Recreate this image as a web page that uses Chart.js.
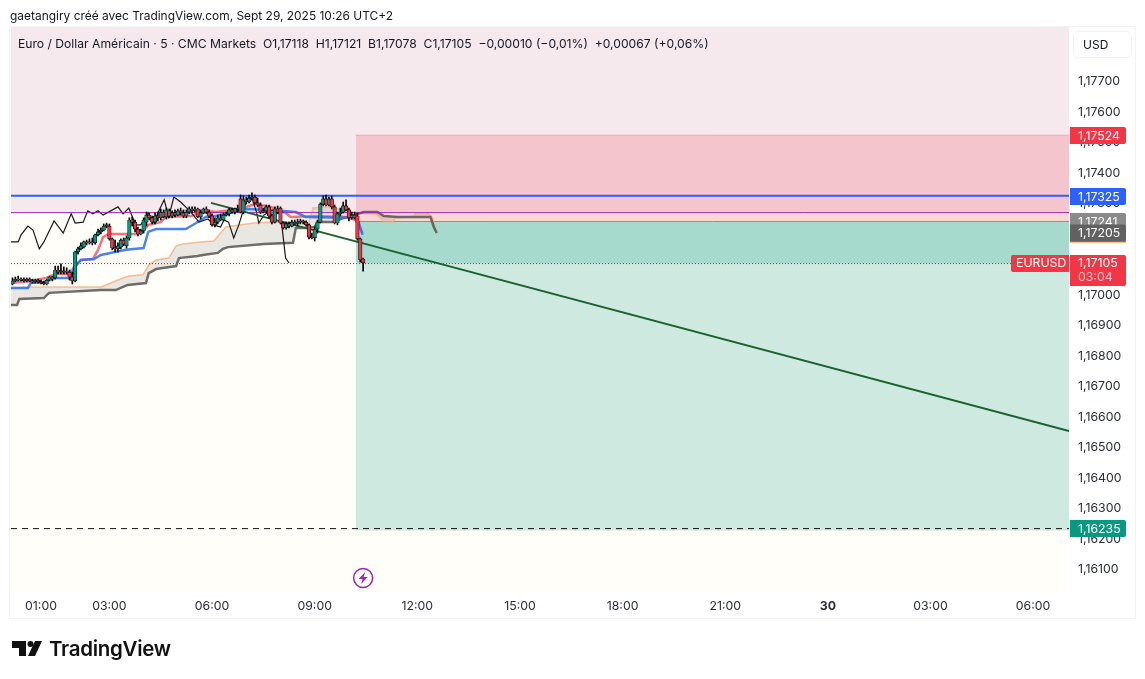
<!DOCTYPE html>
<html>
<head>
<meta charset="utf-8">
<title>EURUSD</title>
<script src="https://cdn.jsdelivr.net/npm/chart.js@4"></script>
<style>
    html, body { margin: 0; padding: 0; background: #fff; width: 1145px; height: 679px; overflow: hidden; }
    body { font-family: Inter, "Noto Sans", sans-serif; color: #131722; }
    canvas { position: absolute; left: 0; top: 0; }
    .txt { position: absolute; white-space: pre; }
    #credit { left: 10px; top: 8px; font-size: 11.95px; }
    #legend { left: 18px; top: 36px; font-size: 12.15px; }
    #frame { position: absolute; left: 9px; top: 26px; width: 1125px; height: 591px; border: 1.5px solid #f2f3f5; }
    #usd { left: 1073px; top: 31px; width: 57px; height: 25px; line-height: 25px; border: 1.5px solid #f1f2f4; border-radius: 5px; font-size: 12px; text-indent: 9px; }
    #brand { left: 49px; top: 636px; font-size: 20.5px; font-weight: 600; letter-spacing: -0.3px; color: #111; }
    #logo { position: absolute; left: 11px; top: 640px; }
</style>
</head>
<body>
<canvas id="chart" width="1145" height="679"></canvas>
<div id="frame"></div>
<div class="txt" id="credit">gaetangiry créé avec TradingView.com, Sept 29, 2025 10:26 UTC+2</div>
<div class="txt" id="legend">Euro / Dollar Américain · 5 · CMC Markets  O1,17118  H1,17121  B1,17078  C1,17105  −0,00010 (−0,01%)  +0,00067 (+0,06%)</div>
<div class="txt" id="usd">USD</div>
<svg id="logo" width="34" height="18" viewBox="0 0 34 18">
    <path d="M1 1h14v15h-7V8H1z" fill="#111"/>
    <circle cx="19.5" cy="4" r="3" fill="#111"/>
    <path d="M24 1h7l-7 15h-7z" fill="#111"/>
</svg>
<div class="txt" id="brand">TradingView</div>

<script>
// minutes since sept 29 00:00
const axisStart = 7.4;
const axisEnd = 1863;
const priceMin = 1.160262;
const priceMax = 1.178787;

const timeTicks = [60, 180, 360, 540, 720, 900, 1080, 1260, 1440, 1620, 1800];
const timeLabels = ['01:00', '03:00', '06:00', '09:00', '12:00', '15:00', '18:00', '21:00', '30', '03:00', '06:00'];
const priceTicks = [1.161, 1.162, 1.163, 1.164, 1.165, 1.166, 1.167, 1.168, 1.169, 1.170, 1.171, 1.172, 1.173, 1.174, 1.175, 1.176, 1.177];

const candleTimes = [
    10, 15, 20, 25, 30, 35, 40, 45, 50, 55, 60, 65, 70, 75, 80, 85, 90, 95, 100, 105,
    110, 115, 120, 125, 130, 135, 140, 145, 150, 155, 160, 165, 170, 175, 180, 185, 190, 195, 200, 205,
    210, 215, 220, 225, 230, 235, 240, 245, 250, 255, 260, 265, 270, 275, 280, 285, 290, 295, 300, 305,
    310, 315, 320, 325, 330, 335, 340, 345, 350, 355, 360, 365, 370, 375, 380, 385, 390, 395, 400, 405,
    410, 415, 420, 425, 430, 435, 440, 445, 450, 455, 460, 465, 470, 475, 480, 485, 490, 495, 500, 505,
    510, 515, 520, 525, 530, 535, 540, 545, 550, 555, 560, 565, 570, 575, 580, 585, 590, 595, 600, 605,
    610, 615, 620, 625];
const opens = [
    1.17036, 1.17046, 1.17052, 1.17049, 1.17052, 1.17046, 1.17052, 1.17046, 1.17043, 1.17049,
    1.17043, 1.17039, 1.17036, 1.17049, 1.17059, 1.17056, 1.17082, 1.17075, 1.17079, 1.17075,
    1.17075, 1.17059, 1.17046, 1.17141, 1.17151, 1.17157, 1.17174, 1.17171, 1.17174, 1.17171,
    1.17197, 1.17207, 1.17213, 1.17226, 1.17226, 1.17184, 1.17154, 1.17151, 1.17157, 1.17180,
    1.17161, 1.17187, 1.17246, 1.17239, 1.17216, 1.17200, 1.17210, 1.17239, 1.17262, 1.17253,
    1.17239, 1.17259, 1.17253, 1.17272, 1.17256, 1.17276, 1.17259, 1.17269, 1.17262, 1.17276,
    1.17269, 1.17259, 1.17272, 1.17282, 1.17276, 1.17282, 1.17256, 1.17269, 1.17282, 1.17272,
    1.17259, 1.17230, 1.17239, 1.17253, 1.17246, 1.17262, 1.17266, 1.17279, 1.17272, 1.17282,
    1.17315, 1.17272, 1.17312, 1.17305, 1.17318, 1.17321, 1.17302, 1.17295, 1.17272, 1.17276,
    1.17289, 1.17259, 1.17239, 1.17282, 1.17285, 1.17236, 1.17220, 1.17233, 1.17226, 1.17239,
    1.17233, 1.17239, 1.17243, 1.17239, 1.17230, 1.17190, 1.17187, 1.17216, 1.17239, 1.17298,
    1.17315, 1.17295, 1.17315, 1.17289, 1.17236, 1.17266, 1.17272, 1.17292, 1.17279, 1.17253,
    1.17262, 1.17259, 1.17184, 1.17118];
const highs = [
    1.17056, 1.17059, 1.17062, 1.17056, 1.17056, 1.17056, 1.17056, 1.17052, 1.17052, 1.17052,
    1.17049, 1.17046, 1.17052, 1.17062, 1.17062, 1.17095, 1.17095, 1.17102, 1.17092, 1.17089,
    1.17082, 1.17075, 1.17144, 1.17157, 1.17171, 1.17177, 1.17180, 1.17184, 1.17187, 1.17200,
    1.17216, 1.17220, 1.17233, 1.17236, 1.17233, 1.17187, 1.17180, 1.17171, 1.17184, 1.17187,
    1.17194, 1.17253, 1.17256, 1.17246, 1.17223, 1.17216, 1.17253, 1.17272, 1.17269, 1.17259,
    1.17269, 1.17272, 1.17282, 1.17279, 1.17285, 1.17282, 1.17276, 1.17279, 1.17282, 1.17285,
    1.17279, 1.17279, 1.17289, 1.17289, 1.17289, 1.17285, 1.17279, 1.17285, 1.17289, 1.17279,
    1.17266, 1.17253, 1.17262, 1.17266, 1.17269, 1.17272, 1.17285, 1.17285, 1.17285, 1.17295,
    1.17328, 1.17325, 1.17321, 1.17328, 1.17335, 1.17328, 1.17318, 1.17302, 1.17285, 1.17295,
    1.17295, 1.17266, 1.17289, 1.17292, 1.17289, 1.17239, 1.17239, 1.17239, 1.17246, 1.17246,
    1.17249, 1.17249, 1.17246, 1.17243, 1.17233, 1.17203, 1.17223, 1.17246, 1.17302, 1.17325,
    1.17328, 1.17321, 1.17325, 1.17295, 1.17272, 1.17285, 1.17305, 1.17312, 1.17285, 1.17272,
    1.17272, 1.17269, 1.17187, 1.17121];
const lows = [
    1.17033, 1.17043, 1.17046, 1.17046, 1.17043, 1.17043, 1.17043, 1.17039, 1.17039, 1.17039,
    1.17036, 1.17033, 1.17033, 1.17046, 1.17046, 1.17052, 1.17069, 1.17069, 1.17069, 1.17069,
    1.17049, 1.17036, 1.17043, 1.17134, 1.17148, 1.17154, 1.17164, 1.17167, 1.17164, 1.17167,
    1.17194, 1.17200, 1.17210, 1.17220, 1.17180, 1.17148, 1.17141, 1.17141, 1.17151, 1.17161,
    1.17154, 1.17180, 1.17226, 1.17207, 1.17194, 1.17197, 1.17203, 1.17226, 1.17246, 1.17233,
    1.17233, 1.17243, 1.17246, 1.17253, 1.17249, 1.17253, 1.17253, 1.17256, 1.17259, 1.17262,
    1.17253, 1.17253, 1.17266, 1.17269, 1.17272, 1.17253, 1.17249, 1.17266, 1.17266, 1.17253,
    1.17226, 1.17223, 1.17233, 1.17243, 1.17243, 1.17259, 1.17259, 1.17269, 1.17266, 1.17272,
    1.17269, 1.17266, 1.17298, 1.17302, 1.17312, 1.17298, 1.17289, 1.17266, 1.17269, 1.17269,
    1.17253, 1.17233, 1.17236, 1.17266, 1.17233, 1.17216, 1.17216, 1.17220, 1.17223, 1.17230,
    1.17226, 1.17233, 1.17233, 1.17226, 1.17184, 1.17184, 1.17177, 1.17203, 1.17236, 1.17292,
    1.17292, 1.17292, 1.17282, 1.17233, 1.17230, 1.17259, 1.17269, 1.17276, 1.17243, 1.17249,
    1.17249, 1.17180, 1.17108, 1.17078];
const closes = [
    1.17046, 1.17052, 1.17049, 1.17052, 1.17046, 1.17052, 1.17046, 1.17043, 1.17049, 1.17043,
    1.17039, 1.17036, 1.17049, 1.17059, 1.17052, 1.17082, 1.17075, 1.17079, 1.17075, 1.17075,
    1.17059, 1.17046, 1.17141, 1.17151, 1.17161, 1.17174, 1.17171, 1.17174, 1.17171, 1.17197,
    1.17207, 1.17213, 1.17226, 1.17230, 1.17184, 1.17154, 1.17151, 1.17161, 1.17180, 1.17167,
    1.17187, 1.17246, 1.17239, 1.17216, 1.17200, 1.17210, 1.17246, 1.17262, 1.17253, 1.17239,
    1.17259, 1.17253, 1.17272, 1.17256, 1.17279, 1.17259, 1.17269, 1.17262, 1.17276, 1.17269,
    1.17259, 1.17272, 1.17282, 1.17276, 1.17282, 1.17256, 1.17269, 1.17282, 1.17272, 1.17259,
    1.17230, 1.17239, 1.17253, 1.17246, 1.17262, 1.17266, 1.17279, 1.17272, 1.17282, 1.17285,
    1.17272, 1.17312, 1.17305, 1.17318, 1.17321, 1.17302, 1.17295, 1.17272, 1.17276, 1.17289,
    1.17259, 1.17239, 1.17282, 1.17272, 1.17236, 1.17220, 1.17233, 1.17226, 1.17239, 1.17233,
    1.17239, 1.17243, 1.17239, 1.17230, 1.17190, 1.17187, 1.17216, 1.17239, 1.17298, 1.17315,
    1.17295, 1.17315, 1.17289, 1.17236, 1.17266, 1.17272, 1.17292, 1.17279, 1.17253, 1.17262,
    1.17253, 1.17184, 1.17115, 1.17105];

const redTimes = [7.4, 42, 69, 86, 109, 118, 130, 151, 160, 169, 179, 230, 240, 248, 270, 279, 323, 349, 367, 410, 435, 463, 472, 489, 498, 542, 594, 612, 624];
const redValues = [1.17039, 1.17046, 1.17056, 1.17069, 1.17069, 1.17092, 1.17115, 1.17118, 1.17148, 1.17190, 1.17200, 1.17200, 1.17213, 1.17230, 1.17239, 1.17256, 1.17259, 1.17276, 1.17272, 1.17282, 1.17298, 1.17289, 1.17282, 1.17269, 1.17256, 1.17259, 1.17256, 1.17246, 1.17203];

const blueTimes = [7.4, 37, 42, 69, 78, 113, 118, 130, 153, 165, 209, 240, 248, 262, 314, 332, 349, 379, 419, 463, 507, 524, 594, 610, 617, 624];
const blueValues = [1.17023, 1.17023, 1.17039, 1.17043, 1.17056, 1.17056, 1.17089, 1.17115, 1.17118, 1.17131, 1.17148, 1.17154, 1.17207, 1.17216, 1.17216, 1.17236, 1.17256, 1.17262, 1.17282, 1.17279, 1.17272, 1.17256, 1.17253, 1.17259, 1.17239, 1.17197];

const laggingTimes = [7.4, 20, 25, 37, 46, 57, 65, 83, 99, 113, 120, 134, 142, 151, 160, 169, 195, 204, 214, 226, 235, 248, 258, 265, 276, 284, 293, 305, 323, 337, 353, 363, 375, 381, 389, 398, 407, 416, 423, 431, 438, 442, 451, 463, 475, 481, 484, 489, 495];
const laggingValues = [1.17174, 1.17174, 1.17197, 1.17226, 1.17213, 1.17151, 1.17174, 1.17243, 1.17203, 1.17266, 1.17236, 1.17239, 1.17276, 1.17266, 1.17276, 1.17262, 1.17289, 1.17266, 1.17285, 1.17230, 1.17230, 1.17269, 1.17239, 1.17269, 1.17312, 1.17256, 1.17321, 1.17305, 1.17272, 1.17239, 1.17249, 1.17230, 1.17223, 1.17246, 1.17239, 1.17187, 1.17230, 1.17285, 1.17318, 1.17312, 1.17272, 1.17236, 1.17262, 1.17276, 1.17279, 1.17253, 1.17203, 1.17121, 1.17105];

const spanATimes = [7.4, 48, 86, 165, 195, 214, 239, 249, 262, 284, 297, 309, 340, 363, 375, 384, 433, 468, 530, 537, 568, 577, 608, 617, 647, 656, 661, 677, 682, 712, 717, 740, 747, 754];
const spanAValues = [1.17023, 1.17026, 1.17026, 1.17026, 1.17049, 1.17062, 1.17066, 1.17098, 1.17115, 1.17121, 1.17161, 1.17167, 1.17174, 1.17177, 1.17203, 1.17223, 1.17236, 1.17239, 1.17239, 1.17285, 1.17289, 1.17285, 1.17262, 1.17266, 1.17266, 1.17253, 1.17239, 1.17239, 1.17253, 1.17256, 1.17266, 1.17266, 1.17253, 1.17203];

const spanBTimes = [7.4, 18, 22, 65, 74, 165, 191, 212, 244, 249, 262, 297, 302, 335, 344, 370, 379, 388, 451, 502, 507, 524, 540, 545, 573, 591, 608, 626, 650, 661, 686, 743, 749, 754];
const spanBValues = [1.16967, 1.16967, 1.16987, 1.16990, 1.17007, 1.17016, 1.17016, 1.17033, 1.17039, 1.17072, 1.17085, 1.17095, 1.17121, 1.17128, 1.17131, 1.17138, 1.17151, 1.17157, 1.17167, 1.17171, 1.17220, 1.17220, 1.17223, 1.17239, 1.17239, 1.17253, 1.17262, 1.17272, 1.17272, 1.17259, 1.17256, 1.17256, 1.17223, 1.17203];

const trendTimes = [358, 1863];
const trendValues = [1.17302, 1.16554];

// position tool and levels
const toolStart = 612;
const stopPrice = 1.17524;
const entryPrice = 1.17241;
const targetPrice = 1.16234;
const zoneBottom = 1.16228;
const bluePrice = 1.17325;
const purplePrice = 1.17270;
const lastPrice = 1.17103;
const lastLineEnd = 1763;
const eventTime = 625;
const eventPrice = 1.16072;

const tagPrices = [1.17524, 1.17325, 1.17241, 1.17205, 1.17105, 1.16235];
const tagLabels = ['1,17524', '1,17325', '1,17241', '1,17205', '1,17105', '1,16235'];
const countdown = '03:04';
const symbolName = 'EURUSD';

function points(times, values) {
    return times.map((t, i) => ({ x: t, y: values[i] }));
}

function level(x1, x2, price, opts) {
    return Object.assign({
        type: 'line',
        data: [{ x: x1, y: price }, { x: x2, y: price }],
        pointRadius: 0,
        borderWidth: 1,
        borderColor: 'transparent',
        fill: false
    }, opts);
}

function series(times, values, color, width, order) {
    return {
        type: 'line',
        data: points(times, values),
        pointRadius: 0,
        borderColor: color,
        borderWidth: width,
        tension: 0,
        fill: false,
        order: order
    };
}

const spanA = series(spanATimes, spanAValues, 'rgba(245,176,125,0.8)', 1.5, 12);
spanA.fill = { target: '+1', above: 'rgba(110,110,105,0.16)', below: 'rgba(110,110,105,0.16)' };

const datasets = [
    level(axisStart, axisEnd, priceMax, { fill: { value: purplePrice }, backgroundColor: '#f6e9ee', order: 30 }),
    level(axisStart, axisEnd, purplePrice, { fill: { value: priceMin }, backgroundColor: '#fffef8', order: 29 }),
    level(toolStart, axisEnd, stopPrice, { fill: { value: entryPrice }, backgroundColor: 'rgba(242,54,69,0.2)', borderColor: 'rgba(242,54,69,0.3)', order: 28 }),
    level(toolStart, axisEnd, entryPrice, { fill: { value: zoneBottom }, backgroundColor: 'rgba(8,153,129,0.2)', borderColor: '#8b9a96', order: 27 }),
    level(toolStart, axisEnd, entryPrice, { fill: { value: lastPrice }, backgroundColor: 'rgba(8,153,129,0.2)', order: 26 }),
    spanA,
    series(spanBTimes, spanBValues, 'rgba(85,85,85,0.85)', 2.5, 11),
    series(redTimes, redValues, 'rgba(247,90,105,0.85)', 2.5, 10),
    series(blueTimes, blueValues, 'rgba(41,110,245,0.85)', 2.5, 9),
    series(laggingTimes, laggingValues, '#1a1a1a', 1.2, 8),
    level(axisStart, axisEnd, purplePrice, { borderColor: '#9c27b0', order: 7 }),
    level(axisStart, axisEnd, bluePrice, { borderColor: '#2962ff', borderWidth: 2, order: 6 }),
    level(axisStart, axisEnd, targetPrice, { borderColor: '#111', borderDash: [6, 5], order: 5 }),
    level(axisStart, lastLineEnd, lastPrice, { borderColor: '#c8202f', borderDash: [1, 2], order: 4 }),
    series(trendTimes, trendValues, '#1b6130', 2, 3),
    {
        type: 'bar',
        data: candleTimes.map((t, i) => ({ x: t, y: [lows[i], highs[i]] })),
        backgroundColor: '#000',
        barThickness: 1,
        grouped: false,
        order: 2
    },
    {
        type: 'bar',
        data: candleTimes.map((t, i) => ({ x: t, y: [opens[i], closes[i]] })),
        backgroundColor: ctx => (closes[ctx.dataIndex] >= opens[ctx.dataIndex] ? '#089981' : '#f23645'),
        borderColor: '#000',
        borderWidth: 0.7,
        borderSkipped: false,
        barThickness: 3.5,
        minBarLength: 1,
        grouped: false,
        order: 1
    },
    {
        type: 'line',
        data: [{ x: eventTime, y: eventPrice }],
        showLine: false,
        pointRadius: 9.5,
        pointBorderWidth: 1.5,
        pointBorderColor: '#9c27b0',
        pointBackgroundColor: '#fffef8',
        order: 0
    }
];

function drawTag(ctx, yPx, h, color, text, textColor) {
    ctx.fillStyle = color;
    ctx.beginPath();
    ctx.roundRect(1070, yPx - h / 2, 56, h, [0, 2, 2, 0]);
    ctx.fill();
    ctx.fillStyle = textColor || '#fff';
    ctx.fillText(text, 1078, yPx + 0.5);
}

// badges on the price axis, the event icon and the symbol label
const overlayPlugin = {
    id: 'overlay',
    afterDraw(chart) {
        const ctx = chart.ctx;
        const y = chart.scales.y;
        const colors = ['#f23645', '#2962ff', '#8a8a8a', '#616161', '#f23645', '#089981'];
        ctx.save();
        ctx.font = '12.3px Inter';
        ctx.textBaseline = 'middle';
        ctx.textAlign = 'left';

        // orange tag hiding under the dark one
        ctx.fillStyle = '#f57c00';
        ctx.fillRect(1070, y.getPixelForValue(tagPrices[3]) + 8, 56, 2);

        tagPrices.forEach((p, i) => {
            const py = Math.round(y.getPixelForValue(p)) + 0.5;
            if (i === 4) {
                ctx.fillStyle = colors[i];
                ctx.beginPath();
                ctx.roundRect(1070, py - 8.5, 56, 31, [0, 2, 2, 0]);
                ctx.fill();
                ctx.fillStyle = '#fff';
                ctx.fillText(tagLabels[i], 1078, py);
                ctx.fillStyle = '#fbc0c6';
                ctx.fillText(countdown, 1078, py + 14);
                ctx.fillStyle = colors[i];
                ctx.beginPath();
                ctx.roundRect(1011, py - 8.5, 58, 17, [2, 0, 0, 2]);
                ctx.fill();
                ctx.fillStyle = '#fff';
                ctx.fillText(symbolName, 1016, py);
            } else {
                drawTag(ctx, py + (i === 3 ? 0.5 : 0), 17, colors[i], tagLabels[i]);
            }
        });

        // lightning in the event circle
        const pt = chart.getDatasetMeta(datasets.length - 1).data[0];
        ctx.fillStyle = '#9c27b0';
        ctx.beginPath();
        ctx.moveTo(pt.x + 2, pt.y - 6);
        ctx.lineTo(pt.x - 4.5, pt.y + 1);
        ctx.lineTo(pt.x - 0.5, pt.y + 1);
        ctx.lineTo(pt.x - 2, pt.y + 6);
        ctx.lineTo(pt.x + 4.5, pt.y - 1);
        ctx.lineTo(pt.x + 0.5, pt.y - 1);
        ctx.closePath();
        ctx.fill();
        ctx.restore();
    }
};

const chart = new Chart(document.getElementById('chart').getContext('2d'), {
    type: 'bar',
    data: { datasets: datasets },
    plugins: [overlayPlugin],
    options: {
        responsive: false,
        animation: false,
        devicePixelRatio: 1,
        layout: { padding: { left: 10, top: 27, right: 0, bottom: 0 } },
        plugins: { legend: { display: false }, tooltip: { enabled: false } },
        scales: {
            x: {
                type: 'linear',
                min: axisStart,
                max: axisEnd,
                offset: false,
                grid: { display: false, drawTicks: false },
                border: { display: false },
                afterBuildTicks: s => { s.ticks = timeTicks.map(v => ({ value: v })); },
                afterFit: s => { s.height = 87; },
                ticks: {
                    autoSkip: false,
                    maxRotation: 0,
                    padding: 7,
                    color: '#2a2e39',
                    font: c => ({ family: 'Inter', size: 12.3, weight: c.index === 8 ? 'bold' : 'normal' }),
                    callback: (v, i) => timeLabels[i]
                }
            },
            y: {
                position: 'right',
                min: priceMin,
                max: priceMax,
                grid: { display: false, drawTicks: false },
                border: { display: false },
                afterBuildTicks: s => { s.ticks = priceTicks.map(v => ({ value: v })); },
                afterFit: s => { s.width = 76; },
                ticks: {
                    autoSkip: false,
                    padding: 9,
                    color: '#2a2e39',
                    font: { family: 'Inter', size: 12.3 },
                    callback: v => v.toFixed(5).replace('.', ',')
                }
            }
        }
    }
});
</script>
</body>
</html>
